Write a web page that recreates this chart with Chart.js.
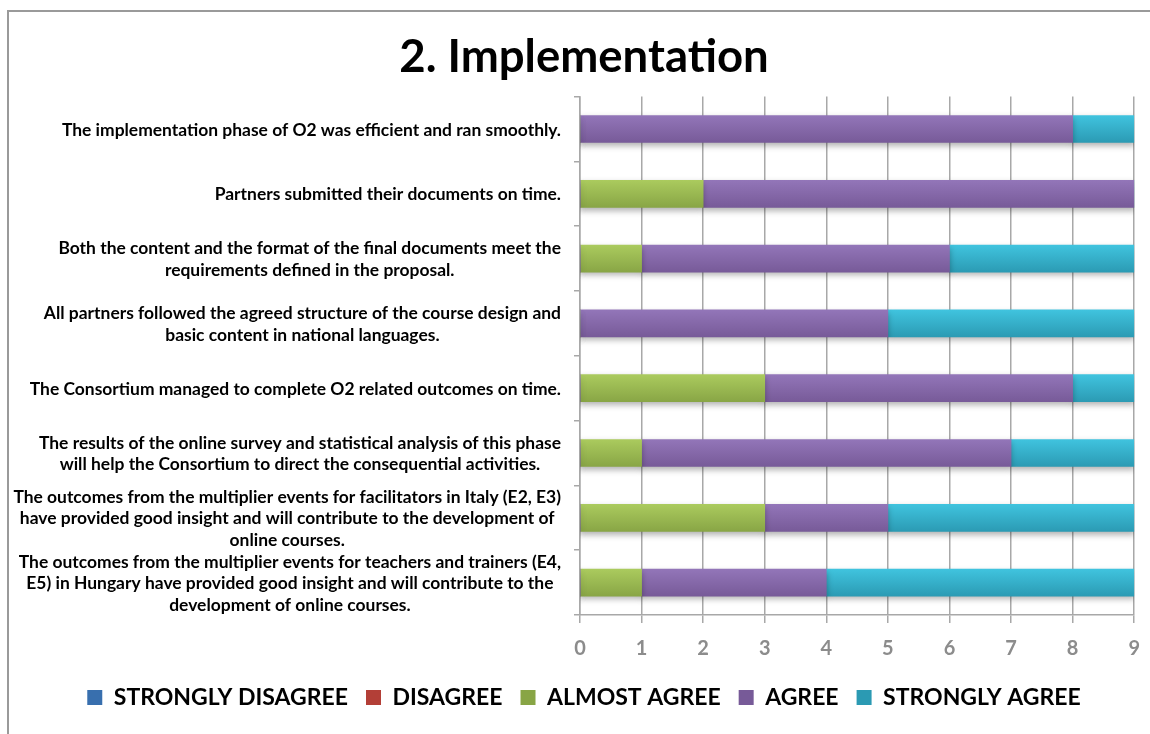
<!DOCTYPE html>
<html>
<head>
<meta charset="utf-8">
<script src="https://cdn.jsdelivr.net/npm/chart.js@4"></script>
<style>
	body { margin: 0; background: #fff; }
	#wrap { position: relative; width: 1150px; height: 734px; overflow: hidden; }
	#frame { position: absolute; left: 7px; top: 10px; width: 1200px; height: 800px;
		border-left: 2px solid #9a9a9a; border-top: 2px solid #9a9a9a; }
	canvas { position: absolute; left: 0; top: 0; }
</style>
</head>
<body>
<div id="wrap">
	<div id="frame"></div>
	<canvas id="implChart" width="1150" height="734"></canvas>
</div>
<script>
// survey statements (top to bottom)
const statements = [
	"The implementation phase of O2 was efficient and ran smoothly.",
	"Partners submitted their documents on time.",
	["Both the content and the format of the final documents meet the", "requirements defined in the proposal."],
	["All partners followed the agreed structure of the course design and", "basic content in national languages."],
	"The Consortium managed to complete O2 related outcomes on time.",
	["The results of the online survey and statistical analysis of this phase", "will help the Consortium to direct the consequential activities."],
	["The outcomes from the multiplier events for facilitators in Italy (E2, E3)", "have provided good insight and will contribute to the development of", "online courses."],
	["The outcomes from the multiplier events for teachers and trainers (E4,", "E5) in Hungary have provided good insight and will contribute to the", "development of online courses."]
];

const stronglyDisagree = [0, 0, 0, 0, 0, 0, 0, 0];
const disagree         = [0, 0, 0, 0, 0, 0, 0, 0];
const almostAgree      = [0, 2, 1, 0, 3, 1, 3, 1];
const agree            = [8, 7, 5, 5, 5, 6, 2, 3];
const stronglyAgree    = [1, 0, 3, 4, 1, 2, 4, 5];

const xTicks = [0, 1, 2, 3, 4, 5, 6, 7, 8, 9];

const FONT = "Lato, 'Open Sans', sans-serif";
const LINE_H = 21.5;

// vertical gradient per bar, like the old Excel look
function barFill(top, bottom) {
	return function (c) {
		const chart = c.chart;
		const y = chart.scales && chart.scales.y;
		if (!chart.chartArea || !y || c.type !== 'data') return bottom;
		const mid = y.getPixelForValue(c.dataIndex);
		const g = chart.ctx.createLinearGradient(0, mid - 14, 0, mid + 14);
		g.addColorStop(0, top);
		g.addColorStop(1, bottom);
		return g;
	};
}

// soft drop shadow under the bars
const shadowPlugin = {
	id: 'barShadow',
	beforeDatasetsDraw(chart) {
		const ctx = chart.ctx;
		ctx.save();
		ctx.shadowColor = 'rgba(0,0,0,0.3)';
		ctx.shadowBlur = 6;
		ctx.shadowOffsetY = 3;
	},
	afterDatasetsDraw(chart) {
		chart.ctx.restore();
	}
};

// category labels: block right aligned, lines centred inside the block
const yLabelPlugin = {
	id: 'yLabels',
	afterDraw(chart) {
		const ctx = chart.ctx;
		const y = chart.scales.y;
		ctx.save();
		let size = 17.5;
		ctx.font = 'bold ' + size + 'px ' + FONT;
		let widest = 0;
		statements.forEach(s => [].concat(s).forEach(l => { widest = Math.max(widest, ctx.measureText(l).width); }));
		if (widest > 548) size = size * 548 / widest;
		ctx.font = 'bold ' + size + 'px ' + FONT;
		ctx.fillStyle = '#000';
		ctx.textAlign = 'center';
		ctx.textBaseline = 'middle';
		statements.forEach((s, i) => {
			const lines = [].concat(s);
			const w = Math.max(...lines.map(l => ctx.measureText(l).width));
			const cx = y.right - 19 - w / 2;
			const cy = y.getPixelForTick(i) + 1;
			lines.forEach((l, k) => {
				ctx.fillText(l, cx, cy + (k - (lines.length - 1) / 2) * LINE_H);
			});
		});
		ctx.restore();
	}
};

const implData = {
	labels: statements.map((s, i) => 'Q' + (i + 1)),
	datasets: [
		{ label: "STRONGLY DISAGREE", data: stronglyDisagree, backgroundColor: barFill('#4a90d8', '#386fae') },
		{ label: "DISAGREE", data: disagree, backgroundColor: barFill('#da564d', '#b33f37') },
		{ label: "ALMOST AGREE", data: almostAgree, backgroundColor: barFill('#abcb5e', '#88a545') },
		{ label: "AGREE", data: agree, backgroundColor: barFill('#9376b9', '#775a98') },
		{ label: "STRONGLY AGREE", data: stronglyAgree, backgroundColor: barFill('#40c4df', '#2b9ab3') }
	]
};

const implConfig = {
	type: 'bar',
	data: implData,
	plugins: [shadowPlugin, yLabelPlugin],
	options: {
		indexAxis: 'y',
		responsive: false,
		animation: false,
		barThickness: 27,
		layout: { padding: { left: 30, right: 12, top: 0, bottom: 15 } },
		plugins: {
			title: {
				display: true,
				text: "2. Implementation",
				color: '#000',
				font: { family: FONT, size: 45.5, weight: 'bold', lineHeight: 1.2 },
				padding: { top: 30, bottom: 12 }
			},
			legend: {
				position: 'bottom',
				labels: {
					color: '#000',
					boxWidth: 15,
					boxHeight: 15,
					padding: 18,
					font: { family: FONT, size: 23, weight: 'bold' }
				}
			},
			tooltip: { enabled: false }
		},
		scales: {
			x: {
				stacked: true,
				min: 0,
				max: 9,
				afterBuildTicks: s => { s.ticks = xTicks.map(v => ({ value: v })); },
				afterFit: s => { s.height = 53; },
				ticks: { color: '#8c8c8c', padding: 10, font: { family: FONT, size: 20, weight: 'bold', lineHeight: 1.6 } },
				grid: { color: '#a8a8a8', lineWidth: 1.5, tickLength: 8 },
				border: { color: '#a8a8a8', width: 1.5 }
			},
			y: {
				stacked: true,
				afterFit: s => { s.width = 550; },
				ticks: { display: false },
				grid: { offset: true, drawOnChartArea: false, color: '#a8a8a8', lineWidth: 1.5, tickLength: 6 },
				border: { color: '#a8a8a8', width: 1.5 }
			}
		}
	}
};

const implChart = new Chart(document.getElementById('implChart'), implConfig);
</script>
</body>
</html>
